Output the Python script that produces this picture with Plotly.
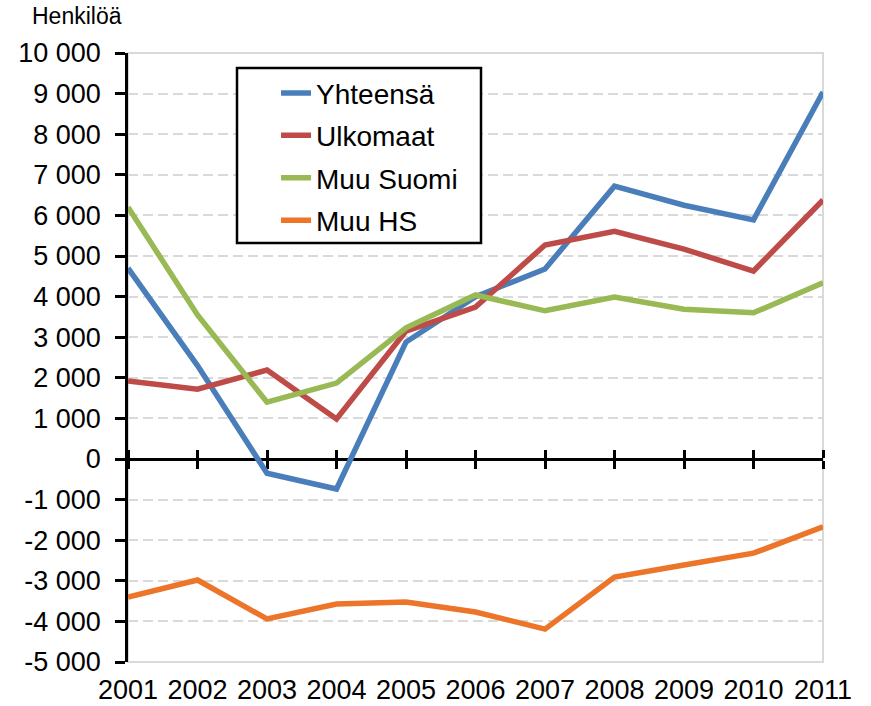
import plotly.graph_objects as go

years = [2001, 2002, 2003, 2004, 2005, 2006, 2007, 2008, 2009, 2010, 2011]
yhteensa = [4700, 2300, -350, -740, 2880, 4000, 4680, 6720, 6250, 5890, 9040]
ulkomaat = [1920, 1720, 2190, 985, 3150, 3740, 5270, 5610, 5170, 4630, 6380]
muu_suomi = [6200, 3550, 1400, 1870, 3230, 4040, 3650, 3990, 3690, 3600, 4340]
muu_hs = [-3400, -2980, -3940, -3570, -3520, -3770, -4190, -2910, -2610, -2320, -1670]

series_names = ["Yhteensä", "Ulkomaat", "Muu Suomi", "Muu HS"]
series_values = [yhteensa, ulkomaat, muu_suomi, muu_hs]
colors = ["#4A7EBB", "#BE4B48", "#98B954", "#EC7529"]

y_ticks = list(range(-5000, 10001, 1000))
y_ticktext = [("-" if v < 0 else "") + (f"{abs(v):,}".replace(",", " ")) for v in y_ticks]
x_ticktext = [str(y) for y in years]

FONT = "Liberation Sans, Arial, sans-serif"

fig = go.Figure()
for i, (name, vals, col) in enumerate(zip(series_names, series_values, colors)):
    fig.add_trace(go.Scatter(
        x=years, y=vals, name=name, mode="lines",
        line=dict(color=col, width=5.5),
        legendgroup=f"g{i}",
    ))

# helper invisible traces so the zero-crossing axes are drawn
for ax in ["x2", "x3"]:
    fig.add_trace(go.Scatter(x=[years[0]], y=[0], xaxis=ax, mode="lines",
                             opacity=0, showlegend=False, hoverinfo="skip"))

xrange = [years[0], years[-1]]
zero_pos = (0 - y_ticks[0]) / (y_ticks[-1] - y_ticks[0])

fig.update_layout(
    width=871, height=706,
    margin=dict(l=128, r=48, t=53, b=44, autoexpand=False),
    plot_bgcolor="white", paper_bgcolor="white",
    font=dict(family=FONT, color="black"),
    showlegend=True,
    legend=dict(
        x=0.213, xanchor="left", y=0.975, yanchor="top",
        bgcolor="rgba(0,0,0,0)", borderwidth=0,
        font=dict(size=28, family=FONT, color="black"),
        traceorder="grouped", tracegroupgap=3,
    ),
    xaxis=dict(
        range=xrange, tickvals=years, ticktext=x_ticktext,
        showgrid=False, zeroline=False, showline=False, ticks="",
        tickfont=dict(size=27, family=FONT, color="black"),
        ticklabelstandoff=9, automargin=False,
    ),
    xaxis2=dict(
        overlaying="x", anchor="free", position=zero_pos, side="bottom",
        range=xrange, tickvals=years, showticklabels=False,
        showgrid=False, zeroline=False, automargin=False,
        showline=True, linecolor="black", linewidth=2.5,
        ticks="outside", ticklen=8, tickwidth=2.5, tickcolor="black",
        layer="below traces",
    ),
    xaxis3=dict(
        overlaying="x", anchor="free", position=zero_pos, side="top",
        range=xrange, tickvals=years, showticklabels=False,
        showgrid=False, zeroline=False, automargin=False,
        showline=True, linecolor="black", linewidth=2.5,
        ticks="outside", ticklen=8, tickwidth=2.5, tickcolor="black",
        layer="below traces",
    ),
    yaxis=dict(
        range=[y_ticks[0], y_ticks[-1]], tickvals=y_ticks, ticktext=y_ticktext,
        showgrid=True, gridcolor="#D9D9D9", gridwidth=2, griddash="10px,5px",
        zeroline=False, automargin=False,
        showline=True, linecolor="black", linewidth=2.5,
        ticks="outside", ticklen=10, tickwidth=2.5, tickcolor="black",
        tickfont=dict(size=27, family=FONT, color="black"),
        ticklabelstandoff=9,
        layer="below traces",
    ),
    shapes=[
        dict(type="rect", xref="paper", yref="paper", x0=0, x1=1, y0=0, y1=1,
             line=dict(color="#D9D9D9", width=2), layer="between"),
        dict(type="rect", xref="paper", yref="paper",
             x0=(237-128)/695, x1=(481-128)/695,
             y0=(662-243)/609, y1=(662-68)/609,
             line=dict(color="black", width=2.5), fillcolor="white", layer="above"),
    ],
    annotations=[
        dict(text="Henkilöä", xref="paper", yref="paper",
             x=(30-128)/695, y=(662-16)/609, xanchor="left", yanchor="middle",
             showarrow=False, font=dict(size=23, family=FONT, color="black")),
    ],
)

fig.write_html("out.html", config={"displayModeBar": False},
               post_script="document.body.style.margin='0';")
